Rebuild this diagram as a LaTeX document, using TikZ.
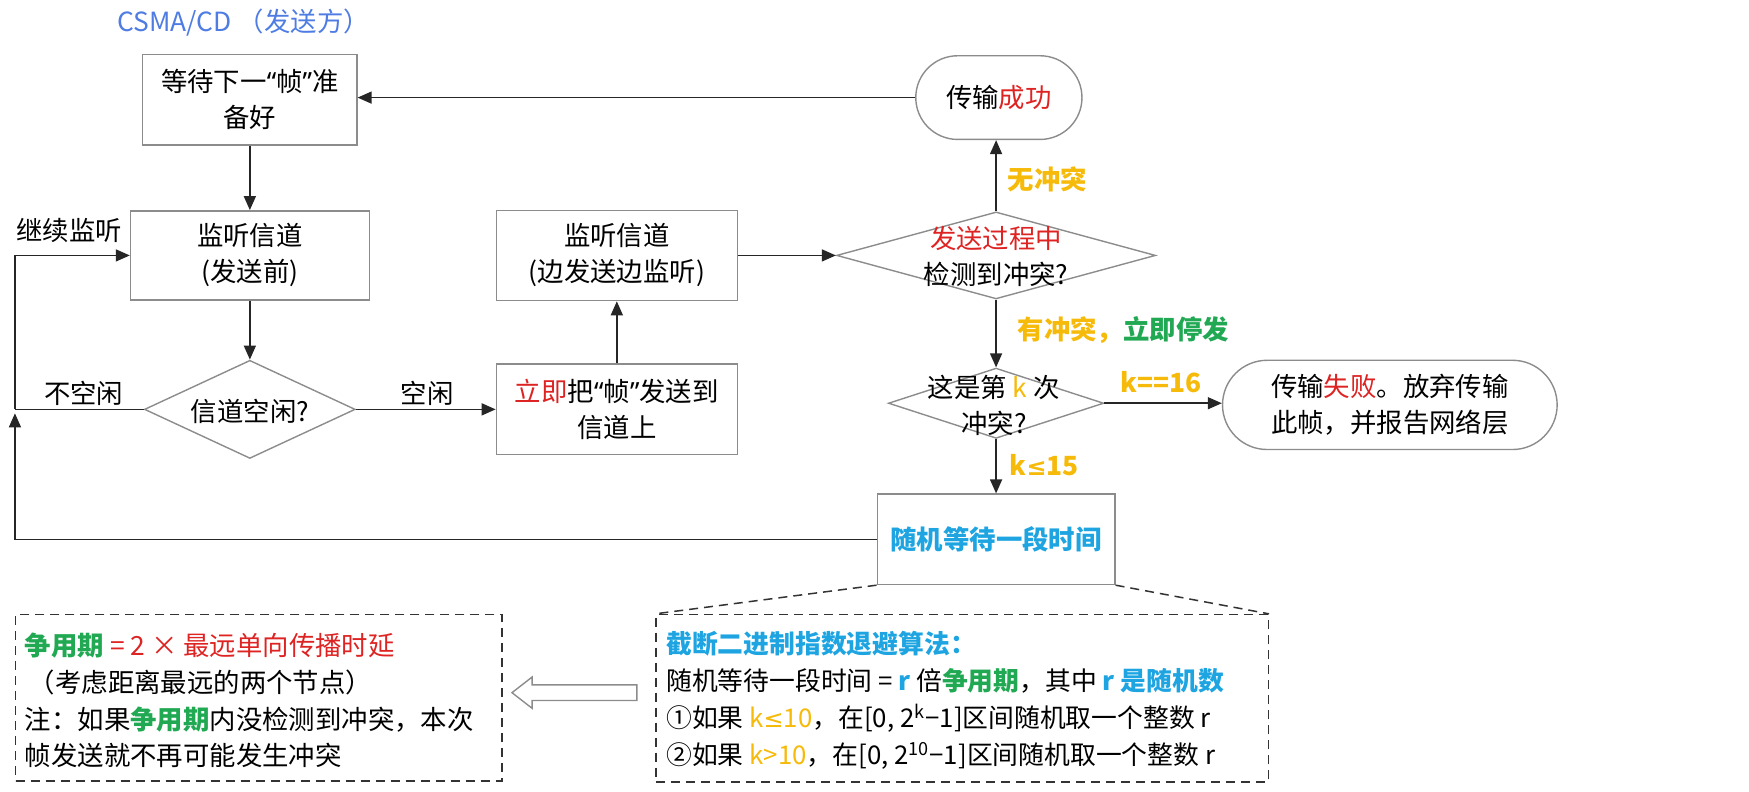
\documentclass[tikz,border=0pt]{standalone}
\usepackage{fontspec}
\setmainfont{Noto Sans CJK SC}
\newfontfamily\latinq{Noto Sans}
\newfontfamily\symfont{DejaVu Sans}
\usetikzlibrary{arrows.meta,shapes.geometric,shapes.misc}
\definecolor{titleblue}{RGB}{78,124,226}
\definecolor{cred}{RGB}{222,35,35}
\definecolor{cgold}{RGB}{246,186,10}
\definecolor{cgreen}{RGB}{32,168,82}
\definecolor{ccyan}{RGB}{30,165,225}
\definecolor{bordergray}{RGB}{140,140,140}
\newcommand{\pxu}{0.5577pt}
\newcommand{\myLq}{{\latinq “}}
\newcommand{\myRq}{{\latinq ”}}
\newcommand{\myle}{{\symfont\fontsize{12}{12}\selectfont ≤}}
\begin{document}
\begin{tikzpicture}[x=0.5577pt,y=-0.5577pt,
  every node/.style={font=\fontsize{13.2}{18}\selectfont, inner sep=0pt},
  box/.style={draw=bordergray, line width=0.7pt, align=center, fill=white},
  dia/.style={draw=bordergray, line width=0.7pt, diamond, inner sep=0pt},
  term/.style={draw=bordergray, line width=0.7pt, rounded rectangle, align=center, fill=white},
  arr/.style={draw=black!85, line width=0.75pt, -{Triangle[length=7pt,width=6pt]}},
  conn/.style={draw=black!85, line width=0.75pt},
  dbox/.style={draw=black!80, line width=0.75pt, dash pattern=on 4.5pt off 3pt},
  dline/.style={draw=black!80, line width=0.75pt, dash pattern=on 4.5pt off 3pt},
  btext/.style={align=left, anchor=west, font=\fontsize{13.2}{18.4}\selectfont},
  lbl/.style={font=\fontsize{13.2}{16}\selectfont},
  glbl/.style={font=\bfseries\fontsize{13.2}{16}\selectfont, text=cgold, anchor=west},
]
\useasboundingbox (0,0) rectangle (1568,710);

\node[anchor=west, text=titleblue] (title) at (105,20) {CSMA/CD （发送方）};

\node[box, minimum width=192*\pxu, minimum height=81*\pxu] (b1) at (224,89.5) {等待下一\myLq 帧\myRq 准\\备好};
\node[box, minimum width=214*\pxu, minimum height=80*\pxu] (b2) at (224,229) {监听信道\\(发送前)};
\node[dia, minimum width=189*\pxu, minimum height=88*\pxu] (d1) at (224,367) {};
\node (t1) at (224,369) {信道空闲?};

\node[box, minimum width=216*\pxu, minimum height=81*\pxu] (b4) at (553,367) {\textcolor{cred}{立即}把\myLq 帧\myRq 发送到\\信道上};
\node[box, minimum width=216*\pxu, minimum height=81*\pxu] (b3) at (553,229) {监听信道\\(边发送边监听)};

\node[dia, minimum width=286*\pxu, minimum height=78*\pxu] (d2) at (893,229) {};
\node[align=center] (t2) at (893,230) {\textcolor{cred}{发送过程中}\\检测到冲突?};
\node[term, minimum width=149*\pxu, minimum height=75*\pxu] (succ) at (895.5,87.5) {传输\textcolor{cred}{成功}};

\node[dia, minimum width=193*\pxu, minimum height=63*\pxu] (d3) at (893,361.5) {};
\node[align=center] (t3) at (891,363) {这是第 \textcolor{cgold}{k} 次\\冲突?};
\node[term, minimum width=300*\pxu, minimum height=80*\pxu] (fail) at (1246,363) {传输\textcolor{cred}{失败}。放弃传输\\此帧，并报告网络层};

\node[box, minimum width=213*\pxu, minimum height=81*\pxu, text=ccyan, font=\bfseries\fontsize{13.2}{18}\selectfont] (rand) at (893,483.5) {随机等待一段时间};

% labels
\node[lbl] (lcont) at (62,207) {继续监听};
\node[lbl] (lnot) at (75,353) {不空闲};
\node[lbl] (lidle) at (383,353) {空闲};
\node[glbl] (lnoc) at (903,161) {无冲突};
\node[glbl] (lcol) at (912,296) {有冲突，\textcolor{cgreen}{立即停发}};
\node[glbl] (l16) at (1004,343) {k==16};
\node[glbl] (l15) at (905,417) {k\myle 15};

% connectors
\draw[arr] (succ.west) -- (succ.west -| b1.east);
\draw[arr] (b1.south) -- (b2.north);
\draw[arr] (b2.south) -- (d1.north);
\draw[arr] (d1.east) -- (d1.east -| b4.west);
\draw[arr] (b4.north) -- (b3.south);
\draw[arr] (b3.east) -- (b3.east -| d2.west);
\draw[arr] (d2.north) -- (d2.north |- succ.south);
\draw[arr] (d2.south) -- (d3.north);
\draw[arr] (d3.east) -- (d3.east -| fail.west);
\draw[arr] (d3.south) -- (rand.north);
\coordinate (jn) at (13.4,367);
\draw[conn] (d1.west) -- (jn);
\draw[arr] (rand.west) -| ([yshift=-2pt]jn);
\draw[arr] (jn) |- (b2.west);

% dashed boxes
\node[dbox, minimum width=436*\pxu, minimum height=149*\pxu] (lbox) at (232,625.5) {};
\node[dbox, minimum width=549*\pxu, minimum height=150*\pxu] (rbox) at (862.5,626) {};
\draw[dline] (rand.south west) -- (rbox.north west);
\draw[dline] (rand.south east) -- (rbox.north east);

\node[btext] (ltext) at (22,628) {\textcolor{cgreen}{\bfseries 争用期} \textcolor{cred}{= 2 × 最远单向传播时延}\\
\hspace{2pt}（考虑距离最远的两个节点）\\
注：如果\textcolor{cgreen}{\bfseries 争用期}内没检测到冲突，本次\\
帧发送就不再可能发生冲突};

\node[btext, font=\fontsize{12.9}{18.4}\selectfont] (rtext) at (597,628) {{\bfseries\color{ccyan}截断二进制指数退避算法：}\\
随机等待一段时间 = {\bfseries\color{ccyan}r} 倍{\bfseries\color{cgreen}争用期}，其中 {\bfseries\color{ccyan}r 是随机数}\\
①如果 {\color{cgold}k\myle 10}，在[0, 2\textsuperscript{k}−1]区间随机取一个整数 r\\
②如果 {\color{cgold}k>10}，在[0, 2\textsuperscript{10}−1]区间随机取一个整数 r};

% hollow arrow
\draw[draw=bordergray, line width=0.7pt, fill=white] (571,614) -- (477,614) -- (477,607) -- (459,621) -- (477,635) -- (477,628) -- (571,628) -- cycle;
\end{tikzpicture}
\end{document}
